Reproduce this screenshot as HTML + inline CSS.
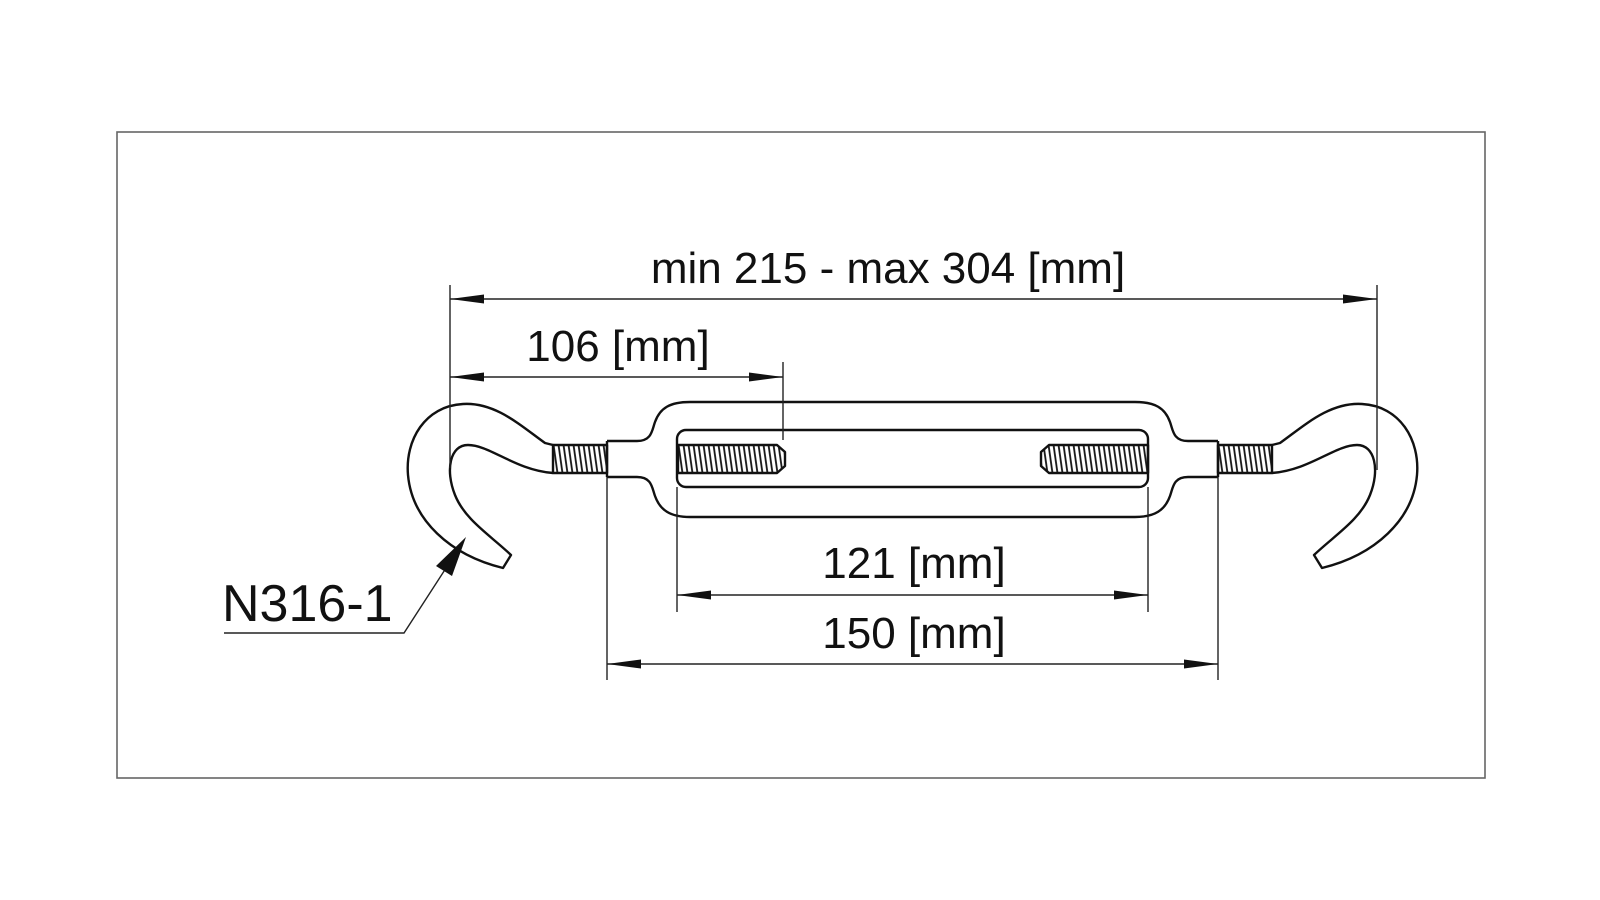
<!DOCTYPE html>
<html><head><meta charset="utf-8"><style>
html,body{margin:0;padding:0;background:#fff;}
svg{display:block;}
text{font-family:"Liberation Sans",Arial,sans-serif;font-size:44px;fill:#111;}
</style></head><body>
<svg width="1600" height="900" viewBox="0 0 1600 900" xmlns="http://www.w3.org/2000/svg">
<defs>
<pattern id="th" width="5" height="40" patternUnits="userSpaceOnUse" patternTransform="skewX(8)">
<line x1="1" y1="0" x2="1" y2="40" stroke="#111" stroke-width="1.8"/>
</pattern>
</defs>
<rect x="117" y="132" width="1368" height="646" fill="none" stroke="#666" stroke-width="1.6"/>

<g fill="none" stroke="#111" stroke-width="2.4" stroke-linejoin="round">
<!-- body -->
<path d="M607,441 L637,441 C652,441 652,430 655,422 C660,408 670,402 690,402 L1135,402 C1155,402 1165,408 1170,422 C1173,430 1173,441 1188,441 L1218,441"/>
<path d="M607,477 L637,477 C652,477 652,488 655,496 C660,510 670,517 690,517 L1135,517 C1155,517 1165,510 1170,496 C1173,488 1173,477 1188,477 L1218,477"/>
<line x1="607" y1="441" x2="607" y2="477"/>
<line x1="1218" y1="441" x2="1218" y2="477"/>
<rect x="677" y="430" width="471" height="57" rx="9"/>
<!-- threads outer -->
<rect x="553" y="445" width="54" height="28" fill="url(#th)"/>
<rect x="1218" y="445" width="54" height="28" fill="url(#th)"/>
<!-- internal threads -->
<path d="M678,445 L777,445 L785,452 L785,466 L777,473 L678,473 Z" fill="url(#th)"/>
<path d="M1148,445 L1049,445 L1041,452 L1041,466 L1049,473 L1148,473 Z" fill="url(#th)"/>
<!-- hooks -->
<path d="M553,445 L545,443 C520,425 495,402 463,404 C425,406 405,440 408,475 C412,520 450,555 503,568 L511,555 C490,535 465,520 455,495 C445,470 450,445 468,445 C490,445 515,470 553,473"/>
<path d="M553,445 L545,443 C520,425 495,402 463,404 C425,406 405,440 408,475 C412,520 450,555 503,568 L511,555 C490,535 465,520 455,495 C445,470 450,445 468,445 C490,445 515,470 553,473" transform="translate(1825,0) scale(-1,1)"/>
</g>

<g stroke="#222" stroke-width="1.4" fill="none">
<line x1="450" y1="285" x2="450" y2="468"/>
<line x1="1377" y1="285" x2="1377" y2="470"/>
<line x1="783" y1="362" x2="783" y2="440"/>
<line x1="677" y1="487" x2="677" y2="612"/>
<line x1="1148" y1="487" x2="1148" y2="612"/>
<line x1="607" y1="477" x2="607" y2="680"/>
<line x1="1218" y1="477" x2="1218" y2="680"/>
<line x1="450" y1="299" x2="1377" y2="299"/>
<line x1="450" y1="377" x2="783" y2="377"/>
<line x1="677" y1="595" x2="1148" y2="595"/>
<line x1="607" y1="664" x2="1218" y2="664"/>
<polyline points="224,633 404,633 448,565"/>
</g>
<g fill="#111">
<polygon points="450,299 484,294.5 484,303.5"/>
<polygon points="1377,299 1343,294.5 1343,303.5"/>
<polygon points="450,377 484,372.5 484,381.5"/>
<polygon points="783,377 749,372.5 749,381.5"/>
<polygon points="677,595 711,590.5 711,599.5"/>
<polygon points="1148,595 1114,590.5 1114,599.5"/>
<polygon points="607,664 641,659.5 641,668.5"/>
<polygon points="1218,664 1184,659.5 1184,668.5"/>
<polygon points="466,537 452,576 436,566"/>
</g>

<text x="888" y="283" text-anchor="middle">min 215 - max 304 [mm]</text>
<text x="618" y="361" text-anchor="middle">106 [mm]</text>
<text x="914" y="578" text-anchor="middle">121 [mm]</text>
<text x="914" y="648" text-anchor="middle">150 [mm]</text>
<text x="222" y="621" style="font-size:52px">N316-1</text>
</svg>
</body></html>
